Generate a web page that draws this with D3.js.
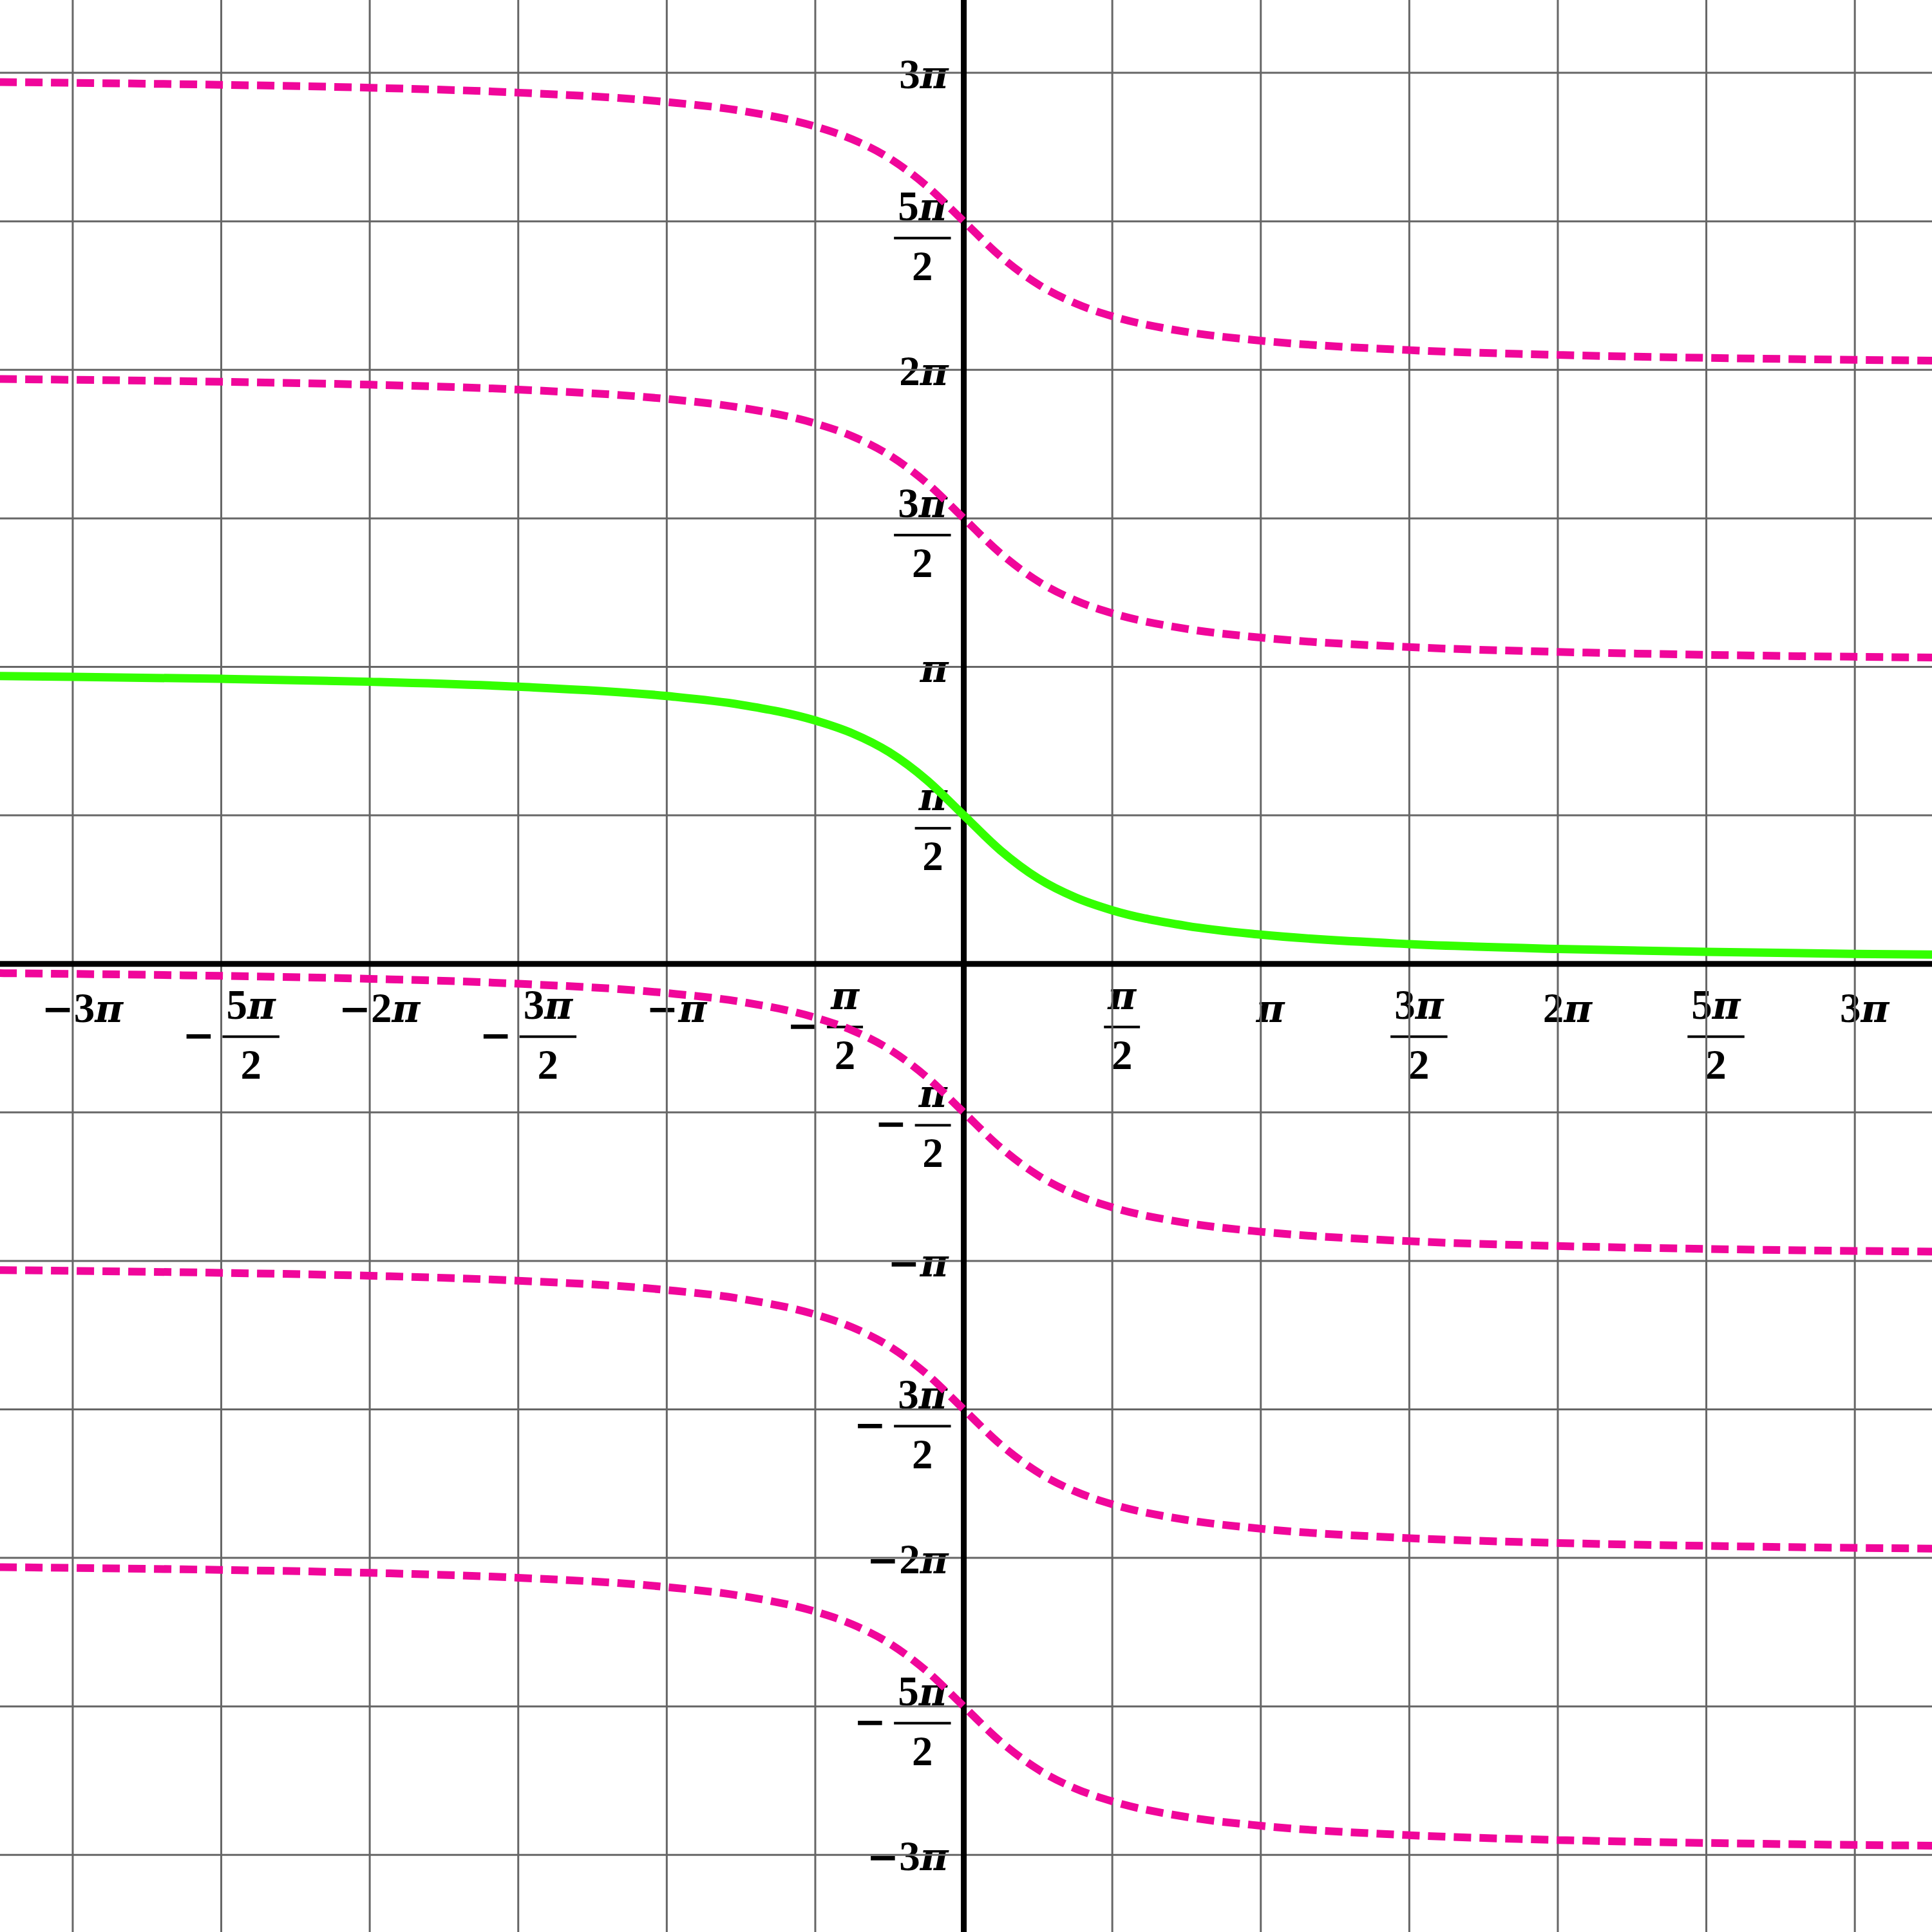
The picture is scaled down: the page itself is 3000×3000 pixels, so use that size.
<!DOCTYPE html>
<html>
<head>
<meta charset="utf-8">
<script src="https://cdn.jsdelivr.net/npm/d3@7"></script>
<style>
  body { margin: 0; background: #fff; }
  svg text { font-family: "Liberation Serif", serif; font-weight: bold; font-size: 65px; fill: #000; }
  svg text .pi { font-family: "DejaVu Serif", serif; font-style: italic; font-size: 60px; }
  svg text.minus { font-family: "DejaVu Serif", serif; font-size: 60px; }
</style>
</head>
<body>
<div id="chart"></div>
<script>

// sample points (x in radians)
var xSamples = [-10.2, -9.42, -7.85, -6.28, -4.71, -3.14, -2.36, -1.57, -1.18, -0.79, -0.39, 0, 0.39, 0.79, 1.18, 1.57, 2.36, 3.14, 4.71, 6.28, 7.85, 9.42, 10.25];

// solid green branch (0 .. pi)
var branchMain = [3.044, 3.036, 3.015, 2.984, 2.932, 2.833, 2.741, 2.574, 2.439, 2.240, 1.943, 1.571, 1.199, 0.902, 0.703, 0.567, 0.401, 0.309, 0.209, 0.158, 0.127, 0.106, 0.098];

// dashed pink branches
var branchP2 = [9.327, 9.319, 9.298, 9.267, 9.215, 9.116, 9.024, 8.857, 8.722, 8.523, 8.226, 7.854, 7.482, 7.185, 6.986, 6.850, 6.684, 6.592, 6.492, 6.441, 6.410, 6.389, 6.381];
var branchP1 = [6.186, 6.178, 6.157, 6.126, 6.074, 5.975, 5.883, 5.716, 5.581, 5.382, 5.085, 4.712, 4.341, 4.044, 3.845, 3.709, 3.543, 3.451, 3.351, 3.300, 3.269, 3.248, 3.240];
var branchM1 = [-0.098, -0.106, -0.127, -0.158, -0.210, -0.309, -0.401, -0.568, -0.703, -0.902, -1.199, -1.571, -1.943, -2.240, -2.439, -2.575, -2.741, -2.833, -2.933, -2.984, -3.015, -3.036, -3.044];
var branchM2 = [-3.239, -3.247, -3.268, -3.299, -3.351, -3.450, -3.542, -3.709, -3.844, -4.043, -4.340, -4.712, -5.084, -5.381, -5.580, -5.716, -5.882, -5.974, -6.074, -6.125, -6.156, -6.177, -6.185];
var branchM3 = [-6.381, -6.389, -6.410, -6.441, -6.493, -6.592, -6.684, -6.851, -6.986, -7.185, -7.482, -7.854, -8.226, -8.523, -8.722, -8.858, -9.024, -9.116, -9.216, -9.267, -9.298, -9.319, -9.327];

var dashedBranches = [branchP2, branchP1, branchM1, branchM2, branchM3];

// ticks in multiples of pi/2
var tickSteps = [-6, -5, -4, -3, -2, -1, 1, 2, 3, 4, 5, 6];
var tickLabels = ["−3π", "−5π/2", "−2π", "−3π/2", "−π", "−π/2", "π/2", "π", "3π/2", "2π", "5π/2", "3π"];

var width = 3000, height = 3000;
var halfPi = Math.PI / 2;

var x = d3.scaleLinear().domain([-10.194, 10.241]).range([0, width]);
var y = d3.scaleLinear().domain([-10.240, 10.195]).range([height, 0]);

var svg = d3.select("#chart").append("svg")
    .attr("width", width)
    .attr("height", height);

var X0 = x(0), Y0 = y(0);

/* labels (drawn first, grid goes over them) */
var labelLayer = svg.append("g");

function mathText(g, s, tx, ty) {
  var t = g.append("text").attr("x", tx).attr("y", ty);
  s.split("").forEach(function(c) {
    t.append("tspan").attr("class", c === "π" ? "pi" : null).text(c);
  });
  return t;
}

function len(t) { return t.node().getComputedTextLength(); }

function addLabel(str) {
  var g = labelLayer.append("g");
  var neg = str.charAt(0) === "−";
  var body = neg ? str.slice(1) : str;
  var frac = body.split("/");
  var isFrac = frac.length === 2;
  var cx = 0;
  if (neg) {
    var m = g.append("text").attr("class", "minus")
      .attr("x", 0).attr("y", isFrac ? 18 : 0).text("−");
    cx = len(m) + (isFrac ? 12 : 0);
  }
  if (isFrac) {
    var num = mathText(g, frac[0], 0, -28),
        den = mathText(g, frac[1], 0, 65);
    var nw = len(num), dw = len(den), bw = Math.max(nw, dw) + 12;
    num.attr("x", cx + (bw - nw) / 2);
    den.attr("x", cx + (bw - dw) / 2);
    g.append("rect").attr("x", cx).attr("y", -2).attr("width", bw).attr("height", 4);
    cx += bw;
  } else {
    var t = mathText(g, body, cx, 0);
    cx += len(t);
  }
  return { g: g, width: cx, isFrac: isFrac, piOnly: frac[0] === "π" };
}

tickSteps.forEach(function(s, i) {
  // x axis label
  var lx = addLabel(tickLabels[i]);
  var px = x(s * halfPi);
  var ty = lx.isFrac ? Y0 + (lx.piOnly ? 98 : 113) : Y0 + 90;
  lx.g.attr("transform", "translate(" + (px + 15 - lx.width / 2) + "," + ty + ")");

  // y axis label
  var ly = addLabel(tickLabels[i]);
  var py = y(s * halfPi);
  var off = ly.isFrac ? 20 : 24;
  var ty2 = ly.isFrac ? py + (ly.piOnly ? 20 : 26) : py + 24;
  ly.g.attr("transform", "translate(" + (X0 - off - ly.width) + "," + ty2 + ")");
});

/* grid */
var gridSteps = [-6, -5, -4, -3, -2, -1, 0, 1, 2, 3, 4, 5, 6];
var grid = svg.append("g").attr("stroke", "#666").attr("stroke-width", 3);

grid.selectAll(".vgrid")
  .data(gridSteps)
  .enter().append("line")
    .attr("class", "vgrid")
    .attr("x1", function(d) { return x(d * halfPi); })
    .attr("x2", function(d) { return x(d * halfPi); })
    .attr("y1", 0)
    .attr("y2", height);

grid.selectAll(".hgrid")
  .data(gridSteps)
  .enter().append("line")
    .attr("class", "hgrid")
    .attr("y1", function(d) { return y(d * halfPi); })
    .attr("y2", function(d) { return y(d * halfPi); })
    .attr("x1", 0)
    .attr("x2", width);

/* axes */
svg.append("line")
  .attr("x1", 0).attr("x2", width)
  .attr("y1", Y0).attr("y2", Y0)
  .attr("stroke", "#000").attr("stroke-width", 9);

svg.append("line")
  .attr("x1", X0).attr("x2", X0)
  .attr("y1", 0).attr("y2", height)
  .attr("stroke", "#000").attr("stroke-width", 9);

/* curves */
var line = d3.line()
  .x(function(d, i) { return x(xSamples[i]); })
  .y(function(d) { return y(d); })
  .curve(d3.curveMonotoneX);

svg.selectAll(".branch")
  .data(dashedBranches)
  .enter().append("path")
    .attr("class", "branch")
    .attr("d", line)
    .attr("fill", "none")
    .attr("stroke", "#f0069a")
    .attr("stroke-width", 12)
    .attr("stroke-dasharray", "27,13");

svg.append("path")
  .attr("d", line(branchMain))
  .attr("fill", "none")
  .attr("stroke", "#33ff00")
  .attr("stroke-width", 13);

</script>
</body>
</html>
